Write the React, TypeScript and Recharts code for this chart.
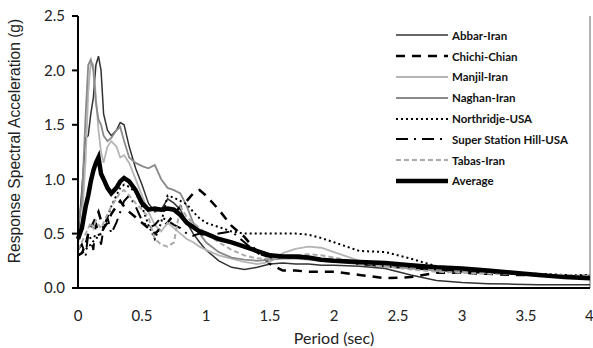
import { LineChart, Line, XAxis, YAxis, Legend, ReferenceLine } from 'recharts';

// period axis (sec)
const periods = [0, 0.03, 0.06, 0.08, 0.1, 0.12, 0.14, 0.16, 0.18, 0.2, 0.23, 0.26, 0.3, 0.33, 0.36, 0.4, 0.45, 0.5, 0.55, 0.6, 0.65, 0.7, 0.75, 0.8, 0.85, 0.9, 0.95, 1.0, 1.1, 1.2, 1.3, 1.4, 1.5, 1.6, 1.7, 1.8, 1.9, 2.0, 2.2, 2.4, 2.6, 2.8, 3.0, 3.2, 3.4, 3.6, 3.8, 4.0];

const abbar = [0.45, 0.9, 1.38, 1.4, 1.6, 1.75, 2.05, 2.13, 2.0, 1.6, 1.45, 1.4, 1.45, 1.52, 1.5, 1.3, 1.1, 0.95, 0.78, 0.7, 0.72, 0.82, 0.78, 0.72, 0.6, 0.5, 0.42, 0.35, 0.25, 0.19, 0.17, 0.19, 0.22, 0.23, 0.22, 0.22, 0.21, 0.21, 0.2, 0.18, 0.12, 0.07, 0.05, 0.04, 0.035, 0.03, 0.03, 0.03];
const chichi = [0.3, 0.32, 0.4, 0.5, 0.55, 0.6, 0.65, 0.7, 0.62, 0.55, 0.6, 0.68, 0.75, 0.8, 0.75, 0.7, 0.65, 0.6, 0.55, 0.5, 0.55, 0.6, 0.68, 0.75, 0.8, 0.87, 0.9, 0.85, 0.72, 0.57, 0.47, 0.33, 0.22, 0.16, 0.16, 0.15, 0.15, 0.15, 0.12, 0.09, 0.1, 0.14, 0.14, 0.13, 0.12, 0.12, 0.11, 0.11];
const manjil = [0.4, 0.6, 1.2, 1.8, 2.08, 2.05, 1.75, 1.45, 1.25, 1.15, 1.3, 1.35, 1.3, 1.2, 1.22, 1.15, 1.0, 0.85, 0.7, 0.58, 0.52, 0.6, 0.55, 0.5, 0.45, 0.42, 0.38, 0.35, 0.3, 0.27, 0.24, 0.22, 0.24, 0.32, 0.36, 0.38, 0.37, 0.33, 0.25, 0.21, 0.18, 0.16, 0.15, 0.14, 0.13, 0.12, 0.11, 0.1];
const naghan = [0.55, 0.8, 1.6, 2.05, 2.1, 2.0, 1.7, 1.55, 1.5, 1.4, 1.35, 1.38, 1.45, 1.48, 1.35, 1.2, 1.15, 1.12, 1.1, 1.13, 1.0, 0.92, 0.9, 0.87, 0.75, 0.6, 0.5, 0.42, 0.33, 0.28, 0.26, 0.25, 0.26, 0.27, 0.27, 0.26, 0.25, 0.24, 0.22, 0.2, 0.18, 0.16, 0.15, 0.14, 0.13, 0.12, 0.11, 0.11];
const northridje = [0.3, 0.32, 0.35, 0.38, 0.4, 0.43, 0.45, 0.48, 0.5, 0.55, 0.65, 0.75, 0.85, 0.92, 0.95, 0.93, 0.88, 0.75, 0.58, 0.45, 0.6, 0.85, 0.83, 0.8, 0.77, 0.7, 0.64, 0.6, 0.56, 0.52, 0.5, 0.5, 0.5, 0.5, 0.5, 0.49, 0.46, 0.42, 0.34, 0.33, 0.27, 0.2, 0.17, 0.15, 0.14, 0.13, 0.12, 0.12];
const superStation = [0.35, 0.4, 0.3, 0.5, 0.45, 0.35, 0.6, 0.5, 0.4, 0.55, 0.65, 0.5, 0.6, 0.7, 0.8, 0.85, 0.75, 0.62, 0.55, 0.58, 0.65, 0.62, 0.58, 0.55, 0.5, 0.48, 0.5, 0.48, 0.5, 0.52, 0.42, 0.32, 0.28, 0.28, 0.28, 0.27, 0.26, 0.25, 0.22, 0.2, 0.18, 0.17, 0.15, 0.14, 0.13, 0.12, 0.11, 0.1];
const tabas = [0.35, 0.42, 0.5, 0.55, 0.6, 0.55, 0.62, 0.58, 0.55, 0.6, 0.68, 0.75, 0.82, 0.88, 0.9, 0.85, 0.78, 0.72, 0.65, 0.45, 0.4, 0.38, 0.42, 0.75, 0.65, 0.6, 0.55, 0.5, 0.42, 0.35, 0.3, 0.27, 0.27, 0.28, 0.3, 0.31, 0.3, 0.28, 0.23, 0.2, 0.17, 0.15, 0.14, 0.13, 0.13, 0.12, 0.12, 0.11];
const average = [0.45, 0.55, 0.75, 0.85, 0.98, 1.08, 1.15, 1.2, 1.05, 1.0, 0.92, 0.87, 0.92, 0.98, 1.01, 0.98, 0.9, 0.78, 0.72, 0.73, 0.72, 0.73, 0.72, 0.67, 0.6, 0.56, 0.52, 0.5, 0.45, 0.42, 0.38, 0.34, 0.3, 0.29, 0.29, 0.28, 0.26, 0.25, 0.24, 0.23, 0.21, 0.19, 0.18, 0.16, 0.14, 0.12, 0.1, 0.09];

const xTicks = [0, 0.5, 1, 1.5, 2, 2.5, 3, 3.5, 4];
const yTicks = [0, 0.5, 1, 1.5, 2, 2.5];

const series = [
  { key: 'abbar', name: 'Abbar-Iran', values: abbar, stroke: '#333', width: 1.5, dash: undefined },
  { key: 'chichi', name: 'Chichi-Chian', values: chichi, stroke: '#000', width: 2.5, dash: '9 7' },
  { key: 'manjil', name: 'Manjil-Iran', values: manjil, stroke: '#b5b5b5', width: 1.8, dash: undefined },
  { key: 'naghan', name: 'Naghan-Iran', values: naghan, stroke: '#8a8a8a', width: 1.8, dash: undefined },
  { key: 'northridje', name: 'Northridje-USA', values: northridje, stroke: '#000', width: 2, dash: '2 3' },
  { key: 'superStation', name: 'Super Station Hill-USA', values: superStation, stroke: '#000', width: 2, dash: '12 6 2 6' },
  { key: 'tabas', name: 'Tabas-Iran', values: tabas, stroke: '#aaa', width: 2, dash: '5 3' },
  { key: 'average', name: 'Average', values: average, stroke: '#000', width: 4.5, dash: undefined },
];

const data = periods.map((p, i) => {
  const row: Record<string, number> = { period: p };
  series.forEach(s => { row[s.key] = s.values[i]; });
  return row;
});

const tickFont = { fontFamily: 'Lato, sans-serif', fontSize: 15, fill: '#222' };

function LegendBox() {
  return (
    <div style={{ fontFamily: 'Lato, sans-serif', fontWeight: 700, fontSize: 11.5, color: '#111' }}>
      {series.map(s => (
        <div key={s.key} style={{ display: 'flex', alignItems: 'center', height: 20.8 }}>
          <svg width={54} height={12}>
            <line x1={1} y1={6} x2={53} y2={6} stroke={s.stroke} strokeWidth={s.width} strokeDasharray={s.dash} />
          </svg>
          <span style={{ marginLeft: 3 }}>{s.name}</span>
        </div>
      ))}
    </div>
  );
}

export default function App() {
  return (
    <div style={{ position: 'absolute', left: 0, top: 0, background: '#fff' }}>
      <LineChart width={593} height={348} data={data} margin={{ top: 16, right: 3, left: 0, bottom: 0 }}>
        <XAxis
          dataKey="period"
          type="number"
          domain={[0, 4]}
          ticks={xTicks}
          tickLine={false}
          tickMargin={16}
          height={60}
          stroke="#000"
          strokeWidth={2}
          tick={tickFont}
          label={{ value: 'Period (sec)', position: 'insideBottom', offset: 4, style: { fontFamily: 'Lato, sans-serif', fontSize: 16, fill: '#222' } }}
        />
        <YAxis
          type="number"
          domain={[0, 2.5]}
          ticks={yTicks}
          width={78}
          tickSize={6}
          tickMargin={7}
          stroke="#000"
          strokeWidth={2}
          tick={tickFont}
          tickFormatter={(v: number) => v.toFixed(1)}
          label={{
            content: () => (
              <text transform="translate(14,141) rotate(-90)" textAnchor="middle" dominantBaseline="central"
                style={{ fontFamily: '"Liberation Sans", Arial, sans-serif', fontSize: 15.6, fill: '#222' }}>
                Response Spectral Acceleration (g)
              </text>
            ),
          }}
        />
        <ReferenceLine x={4} stroke="#999" strokeWidth={1.5} />
        <Legend
          layout="vertical"
          align="center"
          verticalAlign="middle"
          content={() => <LegendBox />}
          wrapperStyle={{ left: 395, top: 25, width: 195 }}
        />
        {series.map(s => (
          <Line
            key={s.key}
            type="linear"
            dataKey={s.key}
            name={s.name}
            stroke={s.stroke}
            strokeWidth={s.width}
            strokeDasharray={s.dash}
            dot={false}
            activeDot={false}
            isAnimationActive={false}
          />
        ))}
      </LineChart>
    </div>
  );
}
